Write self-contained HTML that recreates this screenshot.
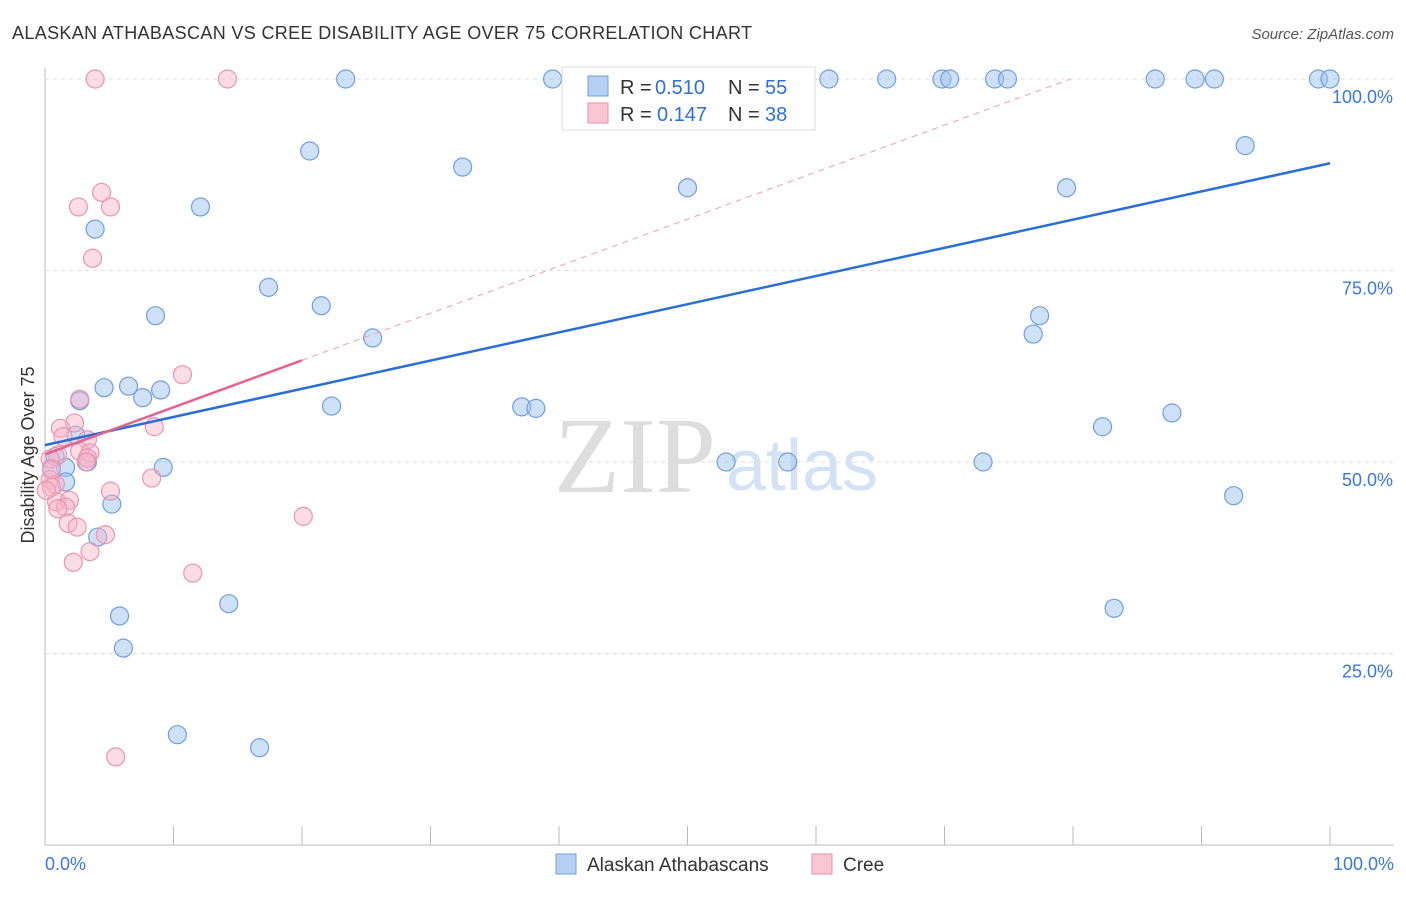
<!DOCTYPE html>
<html><head><meta charset="utf-8"><style>
body{margin:0;background:#fff;font-family:"Liberation Sans",sans-serif}
</style></head><body>
<svg id="c" width="1406" height="892" xmlns="http://www.w3.org/2000/svg">
<text x="12" y="39" font-size="18" fill="#333" letter-spacing="0.35">ALASKAN ATHABASCAN VS CREE DISABILITY AGE OVER 75 CORRELATION CHART</text>
<text x="1394" y="39" font-size="15" fill="#555" font-style="italic" text-anchor="end">Source: ZipAtlas.com</text>
<text x="635" y="492" font-size="108" fill="#ddd" font-family="Liberation Serif" text-anchor="middle">ZIP</text>
<text x="802" y="490" font-size="72" fill="#d3e3f5" text-anchor="middle">atlas</text>
<text transform="translate(34,455) rotate(-90)" font-size="18" fill="#333" text-anchor="middle">Disability Age Over 75</text>
<g id="grid"></g><g id="marks"></g>
<g>
<rect x="562" y="67" width="253" height="63" fill="#fff" stroke="#ddd"/>
<rect x="588" y="76" width="20" height="20" fill="#b5d0f3" stroke="#6f9fe0"/>
<rect x="588" y="103" width="20" height="20" fill="#f9c6d5" stroke="#ea8fab"/>
<g font-size="20" fill="#333">
<text x="620" y="94">R =</text>
<text x="655" y="94" fill="#2f6fd6">0.510</text>
<text x="728" y="94">N =</text>
<text x="765" y="94" fill="#2f6fd6">55</text>
<text x="620" y="121">R =</text>
<text x="657" y="121" fill="#2f6fd6">0.147</text>
<text x="728" y="121">N =</text>
<text x="765" y="121" fill="#2f6fd6">38</text>
</g>
</g>
<g>
<rect x="556" y="854" width="20" height="20" fill="#b5d0f3" stroke="#6f9fe0"/>
<text x="587" y="871" font-size="19" fill="#333">Alaskan Athabascans</text>
<rect x="812" y="854" width="20" height="20" fill="#f9c6d5" stroke="#ea8fab"/>
<text x="843" y="871" font-size="19" fill="#333">Cree</text>
</g>
</svg>
<script>
const blueX=[23.4,39.5,61.0,65.5,69.8,70.4,73.9,74.9,86.4,89.5,91.0,99.1,100,20.6,32.5,93.4,50.0,79.5,12.1,3.9,17.4,21.5,8.6,77.4,76.9,25.5,4.6,6.5,9.0,7.6,2.7,22.3,37.1,38.2,87.7,82.3,2.4,0.8,3.3,53.0,57.8,73.0,9.2,1.6,0.5,1.6,92.5,5.2,4.1,14.3,83.2,5.8,6.1,10.3,16.7];
const blueY=[100,100,100,100,100,100,100,100,100,100,100,100,100,90.6,88.5,91.3,85.8,85.8,83.3,80.4,72.8,70.4,69.1,69.1,66.7,66.2,59.7,59.9,59.4,58.4,58.0,57.3,57.2,57.0,56.4,54.6,53.5,50.7,50.0,50.0,50.0,50.0,49.3,49.3,49.2,47.4,45.6,44.5,40.2,31.5,30.9,29.9,25.7,14.4,12.7];
const pinkX=[3.9,14.2,4.4,2.6,5.1,3.7,10.7,2.7,8.5,2.3,1.2,1.4,3.3,2.7,3.5,1.0,0.4,3.3,0.4,0.8,0.5,8.3,5.1,0.9,1.9,1.6,1.0,1.8,2.5,4.7,3.5,2.2,20.1,11.5,5.5,0.5,3.2,0.1];
const pinkY=[100,100,85.2,83.3,83.3,76.6,61.4,58.2,54.6,55.1,54.4,53.3,52.9,51.4,51.2,50.9,50.4,50.5,47.7,47.1,46.7,47.9,46.2,44.8,45.0,44.1,43.9,42.0,41.5,40.5,38.3,36.9,42.9,35.5,11.5,49.0,50.0,46.3];
const yTicks=[25,50,75,100];
const yTickLabels=["25.0%","50.0%","75.0%","100.0%"];
const xTickVals=[0,10,20,30,40,50,60,70,80,90,100];
const blueTrend=[52.2,89.0];
const pinkTrend=[51.0,0.614];
const NS='http://www.w3.org/2000/svg';
const sx=v=>45+v*12.85, sy=v=>845-v*7.66;
function mk(t,a,p){const e=document.createElementNS(NS,t);for(const k in a)e.setAttribute(k,a[k]);p.appendChild(e);return e;}
const g=document.getElementById('grid'),m=document.getElementById('marks');
let ax=mk('line',{x1:45,y1:68,x2:45,y2:845,stroke:'#bbb'},g);


let bx=mk('line',{x1:45,y1:845,x2:1394,y2:845,stroke:'#bbb'},g);


yTicks.forEach((v,i)=>{
 const l=mk('line',{x1:45,y1:sy(v),x2:1394,y2:sy(v),stroke:'#ddd','stroke-dasharray':'4 4'},g);
 
 
 const t=mk('text',{x:1393,y:sy(v)+24,'font-size':18,fill:'#3b78d8','text-anchor':'end'},g);t.textContent=yTickLabels[i];
 
 
});
xTickVals.forEach(v=>{
 const l=mk('line',{x1:sx(v),y1:826,x2:sx(v),y2:845,stroke:'#bbb'},g);
 
 
});
[[0,'0.0%',45,'start'],[100,'100.0%',1394,'end']].forEach(a=>{
 const t=mk('text',{x:a[2],y:870,'font-size':18,fill:'#3b78d8','text-anchor':a[3]},g);t.textContent=a[1];
 
 
});
blueX.forEach((x,i)=>{
 const c=mk('circle',{cx:sx(x),cy:sy(blueY[i]),r:9,fill:'rgba(160,195,240,0.5)',stroke:'#6f9fe0','stroke-width':1.2},m);
 
 
});
pinkX.forEach((x,i)=>{
 const c=mk('circle',{cx:sx(x),cy:sy(pinkY[i]),r:9,fill:'rgba(248,180,200,0.45)',stroke:'#ec93ae','stroke-width':1.2},m);
 
 
});
const pe=(100-pinkTrend[0])/pinkTrend[1];
let pd=mk('line',{x1:sx(20),y1:sy(pinkTrend[0]+20*pinkTrend[1]),x2:sx(pe),y2:sy(100),stroke:'#eaa0b8','stroke-dasharray':'6 5','stroke-width':1},m);


let bl=mk('line',{x1:sx(0),y1:sy(blueTrend[0]),x2:sx(100),y2:sy(blueTrend[1]),stroke:'#2a6fd6','stroke-width':2.5},m);


let pl=mk('line',{x1:sx(0),y1:sy(pinkTrend[0]),x2:sx(20),y2:sy(pinkTrend[0]+20*pinkTrend[1]),stroke:'#e8608d','stroke-width':2.5},m);


</script>
</body></html>
